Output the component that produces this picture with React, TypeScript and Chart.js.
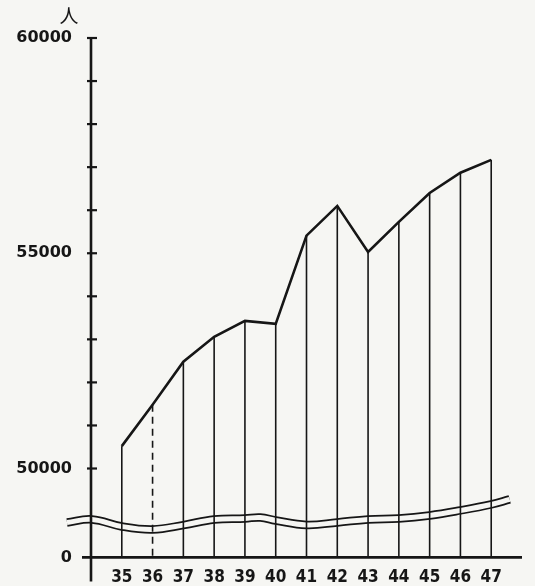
import React, { useEffect, useRef } from 'react';
import { Chart, registerables } from 'chart.js';

Chart.register(...registerables);

// ---- data ----
const years = [35, 36, 37, 38, 39, 40, 41, 42, 43, 44, 45, 46, 47];
const population = [50520, 51480, 52480, 53060, 53430, 53360, 55410, 56100, 55030, 55730, 56400, 56870, 57170];
const dashedYear = 36;

// broken axis: the floor value stands for "0"
const axisFloor = 47935;
const yTickValues = [axisFloor, 50000, 51000, 52000, 53000, 54000, 55000, 56000, 57000, 58000, 59000, 60000];
const yTickLabels = ['0', '50000', '', '', '', '', '55000', '', '', '', '', '60000'];
const unitLabel = '人';

// wavy break band (centre line)
const breakX = [33.22, 34.03, 35, 36, 37, 38, 39, 39.5, 40, 41, 42, 43, 44, 45, 46, 47, 47.6];
const breakY = [48747, 48817, 48654, 48585, 48685, 48817, 48840, 48863, 48793, 48690, 48747, 48817, 48840, 48910, 49026, 49165, 49281];

const BG = '#f6f6f3';
const INK = '#161616';

const handAxes = {
  id: 'handAxes',
  beforeDraw(chart: any) {
    const { ctx, width, height } = chart;
    ctx.save();
    ctx.fillStyle = BG;
    ctx.fillRect(0, 0, width, height);
    ctx.restore();
  },
  afterDatasetsDraw(chart: any) {
    const { ctx, chartArea, scales } = chart;
    const y = scales.y;
    const meta = chart.getDatasetMeta(0);
    ctx.save();
    ctx.strokeStyle = INK;
    // drop lines
    meta.data.forEach((pt: any, i: number) => {
      ctx.lineWidth = 1.6;
      ctx.setLineDash(years[i] === dashedYear ? [7, 5] : []);
      ctx.beginPath();
      ctx.moveTo(pt.x, pt.y);
      ctx.lineTo(pt.x, chartArea.bottom);
      ctx.stroke();
    });
    ctx.setLineDash([]);
    const ax = chartArea.left;
    ctx.lineWidth = 2.6;
    ctx.beginPath();
    ctx.moveTo(ax, y.getPixelForValue(60000));
    ctx.lineTo(ax, chartArea.bottom + 24);
    ctx.stroke();
    ctx.beginPath();
    ctx.moveTo(ax - 9, chartArea.bottom);
    ctx.lineTo(chartArea.right, chartArea.bottom);
    ctx.stroke();
    ctx.lineWidth = 2.2;
    yTickValues.forEach((v) => {
      if (v >= 50000) {
        const py = y.getPixelForValue(v);
        ctx.beginPath();
        ctx.moveTo(ax - 4, py);
        ctx.lineTo(ax + 6, py);
        ctx.stroke();
      }
    });
    ctx.fillStyle = INK;
    ctx.font = '19px "Noto Sans CJK JP"';
    ctx.textAlign = 'center';
    ctx.textBaseline = 'middle';
    ctx.fillText(unitLabel, ax - 22, 16);
    ctx.restore();
  },
};

export default function App() {
  const ref = useRef<HTMLCanvasElement>(null);
  useEffect(() => {
    if (!ref.current) return;
    const breakData = breakX.map((x, i) => ({ x, y: breakY[i] }));
    const chart = new Chart(ref.current, {
      type: 'line',
      data: {
        datasets: [
          {
            data: years.map((x, i) => ({ x, y: population[i] })),
            borderColor: INK,
            borderWidth: 2.6,
            pointRadius: 0,
            tension: 0,
            order: 0,
          },
          {
            data: breakData,
            borderColor: BG,
            borderWidth: 5,
            pointRadius: 0,
            tension: 0.4,
            clip: false,
            order: 1,
          },
          {
            data: breakData,
            borderColor: INK,
            borderWidth: 8.5,
            pointRadius: 0,
            tension: 0.4,
            clip: false,
            order: 2,
          },
        ],
      } as any,
      options: {
        animation: false,
        responsive: false,
        devicePixelRatio: 1,
        layout: { padding: { top: 38, right: 13, left: 0, bottom: 0 } },
        plugins: { legend: { display: false }, tooltip: { enabled: false } },
        scales: {
          x: {
            type: 'linear',
            min: 34,
            max: 48,
            afterBuildTicks: (s: any) => {
              s.ticks = years.map((v) => ({ value: v }));
            },
            afterFit: (s: any) => {
              s.height = 28;
            },
            grid: { display: false, drawTicks: false },
            border: { display: false },
            ticks: {
              autoSkip: false,
              maxRotation: 0,
              padding: 10,
              color: INK,
              font: { family: '"DejaVu Sans Condensed", "DejaVu Sans"', size: 17, weight: 'bold' },
              callback: (v: any) => String(v),
            },
          },
          y: {
            type: 'linear',
            min: axisFloor,
            max: 60000,
            afterBuildTicks: (s: any) => {
              s.ticks = yTickValues.map((v) => ({ value: v }));
            },
            afterFit: (s: any) => {
              s.width = 91;
            },
            grid: { display: false, drawTicks: false },
            border: { display: false },
            ticks: {
              autoSkip: false,
              padding: 19,
              color: INK,
              font: { family: '"DejaVu Sans"', size: 16, weight: 'bold' },
              callback: (_v: any, i: number) => yTickLabels[i],
            },
          },
        },
      } as any,
      plugins: [handAxes],
    });
    return () => chart.destroy();
  }, []);
  return (
    <div style={{ position: 'absolute', left: 0, top: 0, width: 535, height: 586, background: BG }}>
      <canvas ref={ref} width={535} height={586} />
    </div>
  );
}
